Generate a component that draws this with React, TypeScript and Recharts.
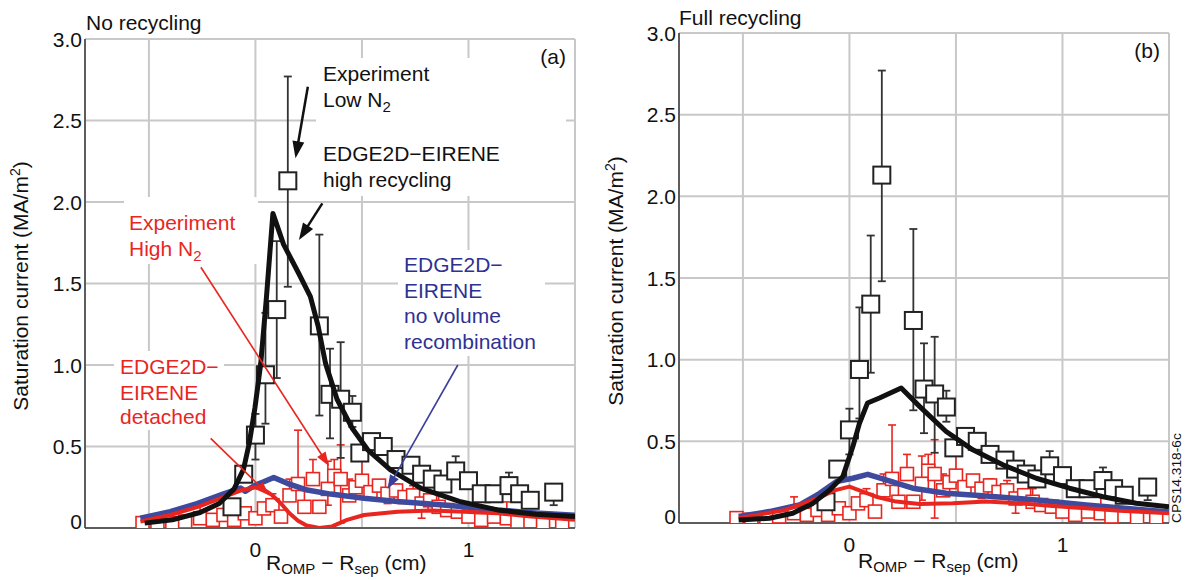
import React from 'react';
import { ComposedChart, Line, Scatter, XAxis, YAxis, CartesianGrid, ErrorBar, ReferenceLine } from 'recharts';

const FONT = '"Liberation Sans", Arial, Helvetica, sans-serif';
const RED = '#e8261f';
const BLUE_LINE = '#3d4a9e';
const BLUE_TEXT = '#2e3192';
const BLACK = '#111111';
const GRID = '#c8c8c8';
const FRAME = '#3a3a3a';

// axes
const X_TICKS = [-0.5, 0, 0.5, 1];
const X_TICK_LABELS: Record<string, string> = { '0': '0', '1': '1' };
const Y_TICKS = [0, 0.5, 1, 1.5, 2, 2.5, 3];
const X_DOMAIN = [-0.8, 1.5];
const Y_DOMAIN = [0, 3];

// Experiment, low N2 (black squares) — same in both panels
const lowN2X = [-0.11, -0.055, 0.0, 0.047, 0.10, 0.152, 0.30, 0.35, 0.40, 0.455, 0.49, 0.545, 0.60, 0.66, 0.73, 0.78, 0.83, 0.88, 0.94, 1.0, 1.06, 1.12, 1.19, 1.24, 1.29, 1.40];
const lowN2Y = [0.13, 0.33, 0.57, 0.94, 1.34, 2.13, 1.24, 0.82, 0.79, 0.71, 0.46, 0.53, 0.50, 0.42, 0.385, 0.33, 0.30, 0.27, 0.35, 0.29, 0.21, 0.21, 0.26, 0.21, 0.17, 0.22];
const lowN2ErrHi = [0, 0, 0.13, 0.38, 0.42, 0.64, 0.56, 0.28, 0.35, 0.1, 0, 0, 0, 0, 0, 0.03, 0.04, 0.03, 0.09, 0.02, 0, 0, 0.08, 0, 0, 0];
const lowN2ErrLo = [0, 0, 0.15, 0.3, 0.42, 0.65, 0.55, 0.27, 0.36, 0.09, 0, 0, 0, 0, 0, 0, 0, 0, 0, 0, 0, 0, 0, 0, 0, 0.08];

// Experiment, high N2 (red squares) — same in both panels
const highN2X = [-0.53, -0.46, -0.39, -0.33, -0.26, -0.20, -0.15, -0.10, -0.05, 0.0, 0.04, 0.08, 0.12, 0.16, 0.20, 0.23, 0.27, 0.30, 0.34, 0.37, 0.40, 0.44, 0.47, 0.50, 0.54, 0.58, 0.62, 0.66, 0.70, 0.74, 0.78, 0.82, 0.86, 0.90, 0.95, 1.00, 1.06, 1.12, 1.18, 1.23, 1.35, 1.44];
const highN2Y = [0.03, 0.02, 0.03, 0.04, 0.06, 0.05, 0.08, 0.05, 0.09, 0.06, 0.12, 0.14, 0.07, 0.20, 0.27, 0.13, 0.30, 0.13, 0.24, 0.32, 0.30, 0.20, 0.25, 0.29, 0.22, 0.26, 0.21, 0.23, 0.19, 0.20, 0.15, 0.17, 0.13, 0.11, 0.10, 0.07, 0.05, 0.07, 0.06, 0.04, 0.03, 0.03];
const highN2ErrHi = [0, 0, 0, 0, 0.1, 0, 0, 0.1, 0, 0, 0, 0.07, 0, 0.1, 0.33, 0.1, 0.12, 0, 0.17, 0.1, 0.21, 0.1, 0, 0.15, 0, 0.03, 0, 0.04, 0, 0.06, 0, 0, 0.08, 0, 0, 0, 0, 0, 0.1, 0, 0, 0];
const highN2ErrLo = [0, 0, 0, 0, 0, 0, 0, 0, 0, 0, 0, 0, 0, 0, 0, 0, 0, 0, 0.1, 0, 0.27, 0, 0, 0, 0, 0, 0.06, 0, 0, 0, 0.09, 0, 0, 0, 0, 0, 0, 0, 0, 0, 0, 0];

// Panel (a): no recycling — EDGE2D-EIRENE curves
const aHighRecX = [-0.52, -0.39, -0.26, -0.17, -0.10, -0.056, -0.029, -0.002, 0.025, 0.052, 0.082, 0.132, 0.204, 0.258, 0.294, 0.329, 0.383, 0.455, 0.527, 0.634, 0.778, 0.957, 1.136, 1.316, 1.5];
const aHighRecY = [0.03, 0.05, 0.095, 0.15, 0.24, 0.36, 0.52, 0.74, 1.01, 1.42, 1.93, 1.74, 1.56, 1.42, 1.24, 1.01, 0.79, 0.61, 0.48, 0.356, 0.243, 0.163, 0.111, 0.084, 0.07];
const aNoVolX = [-0.54, -0.40, -0.274, -0.149, -0.07, -0.048, 0.0, 0.039, 0.086, 0.149, 0.243, 0.353, 0.51, 0.667, 0.824, 0.98, 1.137, 1.294, 1.5];
const aNoVolY = [0.06, 0.10, 0.15, 0.21, 0.245, 0.225, 0.264, 0.284, 0.31, 0.274, 0.233, 0.208, 0.182, 0.162, 0.147, 0.131, 0.110, 0.094, 0.078];
const aDetX = [-0.54, -0.40, -0.27, -0.15, -0.07, 0.0, 0.04, 0.08, 0.12, 0.16, 0.20, 0.24, 0.30, 0.36, 0.43, 0.51, 0.667, 0.824, 0.98, 1.137, 1.294, 1.5];
const aDetY = [0.04, 0.08, 0.13, 0.19, 0.23, 0.25, 0.235, 0.2, 0.15, 0.09, 0.045, 0.015, 0.0, 0.01, 0.05, 0.08, 0.10, 0.107, 0.10, 0.09, 0.07, 0.05];

// Panel (b): full recycling — EDGE2D-EIRENE curves
const bHighRecX = [-0.52, -0.376, -0.266, -0.172, -0.094, -0.031, 0.016, 0.047, 0.085, 0.141, 0.243, 0.329, 0.454, 0.579, 0.72, 0.877, 1.033, 1.19, 1.346, 1.5];
const bHighRecY = [0.018, 0.029, 0.06, 0.12, 0.20, 0.284, 0.468, 0.61, 0.735, 0.765, 0.826, 0.714, 0.56, 0.448, 0.356, 0.274, 0.213, 0.161, 0.121, 0.10];
const bNoVolX = [-0.52, -0.376, -0.235, -0.141, -0.062, 0.016, 0.086, 0.172, 0.297, 0.454, 0.642, 0.877, 1.111, 1.346, 1.5];
const bNoVolY = [0.04, 0.07, 0.11, 0.18, 0.253, 0.274, 0.298, 0.264, 0.213, 0.182, 0.166, 0.141, 0.11, 0.084, 0.068];
const bDetX = [-0.52, -0.3, -0.15, -0.07, 0.0, 0.047, 0.125, 0.219, 0.329, 0.485, 0.642, 0.798, 0.954, 1.111, 1.268, 1.5];
const bDetY = [0.03, 0.08, 0.15, 0.2, 0.223, 0.2, 0.161, 0.131, 0.117, 0.121, 0.131, 0.121, 0.104, 0.09, 0.075, 0.06];

// annotation arrows in panel (a): tail -> head, in data units
const arrowsA = [
  { from: [0.246, 2.707], to: [0.188, 2.268], color: BLACK, w: 2.5, hl: 17, hw: 12 },
  { from: [0.314, 1.992], to: [0.204, 1.767], color: BLACK, w: 2.5, hl: 17, hw: 12 },
  { from: [-0.256, 1.60], to: [0.345, 0.38], color: RED, w: 1.6, hl: 14, hw: 10 },
  { from: [-0.21, 0.55], to: [0.065, 0.2], color: RED, w: 1.6, hl: 14, hw: 10 },
  { from: [0.95, 1.0], to: [0.62, 0.24], color: '#3a3f9a', w: 1.6, hl: 14, hw: 10 },
];

type Pt = { x: number; y: number; err?: number[] };
const points = (xs: number[], ys: number[], lo: number[], hi: number[]): Pt[] =>
  xs.map((x, i) => {
    const l = lo[i] ?? 0;
    const h = hi[i] ?? 0;
    return { x, y: ys[i], err: l || h ? [l, h] : undefined };
  });
const curve = (xs: number[], ys: number[]): Pt[] => xs.map((x, i) => ({ x, y: ys[i] }));

const lowN2 = points(lowN2X, lowN2Y, lowN2ErrLo, lowN2ErrHi);
const highN2 = points(highN2X, highN2Y, highN2ErrLo, highN2ErrHi);

const square = (size: number, stroke: string, sw: number) => (p: any) => (
  <rect x={p.cx - size / 2} y={p.cy - size / 2} width={size} height={size} fill="#fff" stroke={stroke} strokeWidth={sw} />
);

const arrowShape = (color: string, w: number, hl: number, hw: number) => (p: any) => {
  const { x1, y1, x2, y2 } = p;
  if ([x1, y1, x2, y2].some((v) => typeof v !== 'number' || isNaN(v))) return <g />;
  const dx = x2 - x1;
  const dy = y2 - y1;
  const len = Math.hypot(dx, dy) || 1;
  const ux = dx / len;
  const uy = dy / len;
  const bx = x2 - ux * hl;
  const by = y2 - uy * hl;
  const px = -uy;
  const py = ux;
  return (
    <g>
      <line x1={x1} y1={y1} x2={bx + ux * 2} y2={by + uy * 2} stroke={color} strokeWidth={w} />
      <polygon
        points={`${x2},${y2} ${bx + (px * hw) / 2},${by + (py * hw) / 2} ${bx - (px * hw) / 2},${by - (py * hw) / 2}`}
        fill={color}
      />
    </g>
  );
};

const renderYTick = (p: any) => {
  const v = p.payload.value;
  return (
    <text x={p.x} y={p.y + (v === 0 ? -7 : 0)} dy="0.36em" textAnchor="end" fontSize={21} fill="#111" fontFamily={FONT}>
      {v === 0 ? '0' : v.toFixed(1)}
    </text>
  );
};

type PanelProps = {
  width: number;
  height: number;
  top: number;
  right: number;
  xAxisH: number;
  hr: Pt[];
  nv: Pt[];
  dt: Pt[];
  arrows?: typeof arrowsA;
};

// Shared axes: `visible` draws the frame, ticks and labels; otherwise they only reserve the same space.
function Axes(visible: boolean, xAxisH: number) {
  const axisLine = visible ? { stroke: FRAME, strokeWidth: 1.5 } : false;
  return [
    <XAxis
      key="xb"
      type="number"
      dataKey="x"
      domain={X_DOMAIN}
      allowDataOverflow
      ticks={X_TICKS}
      interval={0}
      tickFormatter={(v: number) => X_TICK_LABELS[String(v)] ?? ''}
      height={xAxisH}
      tickLine={false}
      tickSize={6}
      tickMargin={8}
      axisLine={axisLine}
      tick={visible ? { fontSize: 21, fill: '#111', fontFamily: FONT } : false}
    />,
    <XAxis key="xt" xAxisId="top" orientation="top" type="number" domain={X_DOMAIN} allowDataOverflow height={0} tick={false} tickLine={false} axisLine={axisLine} />,
    <YAxis
      key="yl"
      type="number"
      domain={Y_DOMAIN}
      allowDataOverflow
      ticks={Y_TICKS}
      interval={0}
      width={85}
      tickLine={false}
      tickSize={0}
      tickMargin={3}
      axisLine={axisLine}
      tick={visible ? renderYTick : false}
    />,
    <YAxis key="yr" yAxisId="right" orientation="right" type="number" domain={Y_DOMAIN} allowDataOverflow width={0} tick={false} tickLine={false} axisLine={axisLine} />,
  ];
}

function Panel({ width, height, top, right, xAxisH, hr, nv, dt, arrows }: PanelProps) {
  const margin = { top, right, bottom: 0, left: 0 };
  return (
    <div style={{ position: 'relative', width, height }}>
      {/* layer 1: grid, frame, experimental points */}
      <div style={{ position: 'absolute', left: 0, top: 0 }}>
        <ComposedChart width={width} height={height} margin={margin}>
          <CartesianGrid stroke={GRID} strokeWidth={2} />
          {Axes(true, xAxisH)}
          <Scatter data={highN2} dataKey="y" shape={square(13, RED, 1.6)} isAnimationActive={false}>
            <ErrorBar dataKey="err" direction="y" width={4} stroke={RED} strokeWidth={1.6} />
          </Scatter>
          <Scatter data={lowN2} dataKey="y" shape={square(17, '#222', 2)} isAnimationActive={false}>
            <ErrorBar dataKey="err" direction="y" width={4} stroke="#333" strokeWidth={1.8} />
          </Scatter>
        </ComposedChart>
      </div>
      {/* layer 2: simulation curves and arrows, drawn above the points */}
      <div style={{ position: 'absolute', left: 0, top: 0 }}>
        <ComposedChart width={width} height={height} margin={margin}>
          {Axes(false, xAxisH)}
          <Line data={nv} dataKey="y" type="linear" stroke={BLUE_LINE} strokeWidth={5.5} dot={false} isAnimationActive={false} strokeLinejoin="round" />
          <Line data={dt} dataKey="y" type="linear" stroke={RED} strokeWidth={4} dot={false} isAnimationActive={false} strokeLinejoin="round" />
          <Line data={hr} dataKey="y" type="linear" stroke={BLACK} strokeWidth={5} dot={false} isAnimationActive={false} strokeLinejoin="round" />
          {(arrows ?? []).map((a, i) => (
            <ReferenceLine
              key={`arr${i}`}
              ifOverflow="visible"
              segment={[
                { x: a.from[0], y: a.from[1] },
                { x: a.to[0], y: a.to[1] },
              ]}
              shape={arrowShape(a.color, a.w, a.hl, a.hw)}
            />
          ))}
        </ComposedChart>
      </div>
    </div>
  );
}

function XLabel({ x, y }: { x: number; y: number }) {
  return (
    <text x={x} y={y} fontSize={21} fontFamily={FONT} fill="#111">
      R<tspan dy={4} fontSize={15}>OMP</tspan>
      <tspan dy={-4}> − R</tspan>
      <tspan dy={4} fontSize={15}>sep</tspan>
      <tspan dy={-4}> (cm)</tspan>
    </text>
  );
}

function YLabel({ x, y }: { x: number; y: number }) {
  return (
    <text x={x} y={y} fontSize={21} fontFamily={FONT} fill="#111" textAnchor="middle" transform={`rotate(-90 ${x} ${y})`}>
      Saturation current (MA/m<tspan dy={-8} fontSize={14}>2</tspan>
      <tspan dy={8}>)</tspan>
    </text>
  );
}

function Overlay() {
  const t = { fontFamily: FONT, fontSize: 21 };
  return (
    <svg width={1187} height={580} style={{ position: 'absolute', left: 0, top: 0, pointerEvents: 'none' }}>
      {/* white label boxes (panel a) */}
      <rect x={316} y={58} width={250} height={138} fill="#fff" />
      <rect x={124} y={197} width={134} height={67} fill="#fff" />
      <rect x={398} y={250} width={147} height={106} fill="#fff" />
      <rect x={114} y={351} width={110} height={79} fill="#fff" />

      {/* titles */}
      <text x={86} y={30} {...t} fill="#111">No recycling</text>
      <text x={679} y={24.5} {...t} fill="#111">Full recycling</text>
      <text x={566} y={63.5} {...t} fill="#111" textAnchor="end">(a)</text>
      <text x={1160} y={57.5} {...t} fill="#111" textAnchor="end">(b)</text>

      {/* axis labels */}
      <YLabel x={27.5} y={286} />
      <YLabel x={623} y={281} />
      <XLabel x={266} y={570} />
      <XLabel x={858} y={568} />

      {/* panel (a) annotations */}
      <text {...t} fill="#111">
        <tspan x={323} y={80.5}>Experiment</tspan>
        <tspan x={323} y={106.5}>Low N</tspan>
        <tspan dy={5} fontSize={15}>2</tspan>
        <tspan x={323} y={161}>EDGE2D−EIRENE</tspan>
        <tspan x={323} y={187}>high recycling</tspan>
      </text>
      <text {...t} fill={RED}>
        <tspan x={129} y={230}>Experiment</tspan>
        <tspan x={129} y={256}>High N</tspan>
        <tspan dy={5} fontSize={15}>2</tspan>
      </text>
      <text {...t} fill={BLUE_TEXT}>
        <tspan x={404} y={271.5}>EDGE2D−</tspan>
        <tspan x={404} y={297.5}>EIRENE</tspan>
        <tspan x={404} y={323}>no volume</tspan>
        <tspan x={404} y={349}>recombination</tspan>
      </text>
      <text {...t} fill={RED}>
        <tspan x={120} y={374}>EDGE2D−</tspan>
        <tspan x={120} y={400}>EIRENE</tspan>
        <tspan x={120} y={424}>detached</tspan>
      </text>

      {/* figure code */}
      <text
        x={1181}
        y={523}
        fontFamily={FONT}
        fontSize={12.5}
        fill="#111"
        textLength={90}
        lengthAdjust="spacingAndGlyphs"
        transform="rotate(-90 1181 523)"
      >
        CPS14.318-6c
      </text>
    </svg>
  );
}

export default function App() {
  const aHigh = curve(aHighRecX, aHighRecY);
  const aNv = curve(aNoVolX, aNoVolY);
  const aDt = curve(aDetX, aDetY);
  const bHigh = curve(bHighRecX, bHighRecY);
  const bNv = curve(bNoVolX, bNoVolY);
  const bDt = curve(bDetX, bDetY);
  return (
    <div style={{ position: 'absolute', left: 0, top: 0, width: 1187, height: 580, background: '#fff', overflow: 'hidden', fontFamily: FONT }}>
      <div style={{ position: 'absolute', left: 0, top: 0 }}>
        <Panel width={600} height={580} top={39} right={25} xAxisH={52} hr={aHigh} nv={aNv} dt={aDt} arrows={arrowsA} />
      </div>
      <div style={{ position: 'absolute', left: 594, top: 0 }}>
        <Panel width={593} height={580} top={33} right={18} xAxisH={57} hr={bHigh} nv={bNv} dt={bDt} />
      </div>
      <Overlay />
    </div>
  );
}
